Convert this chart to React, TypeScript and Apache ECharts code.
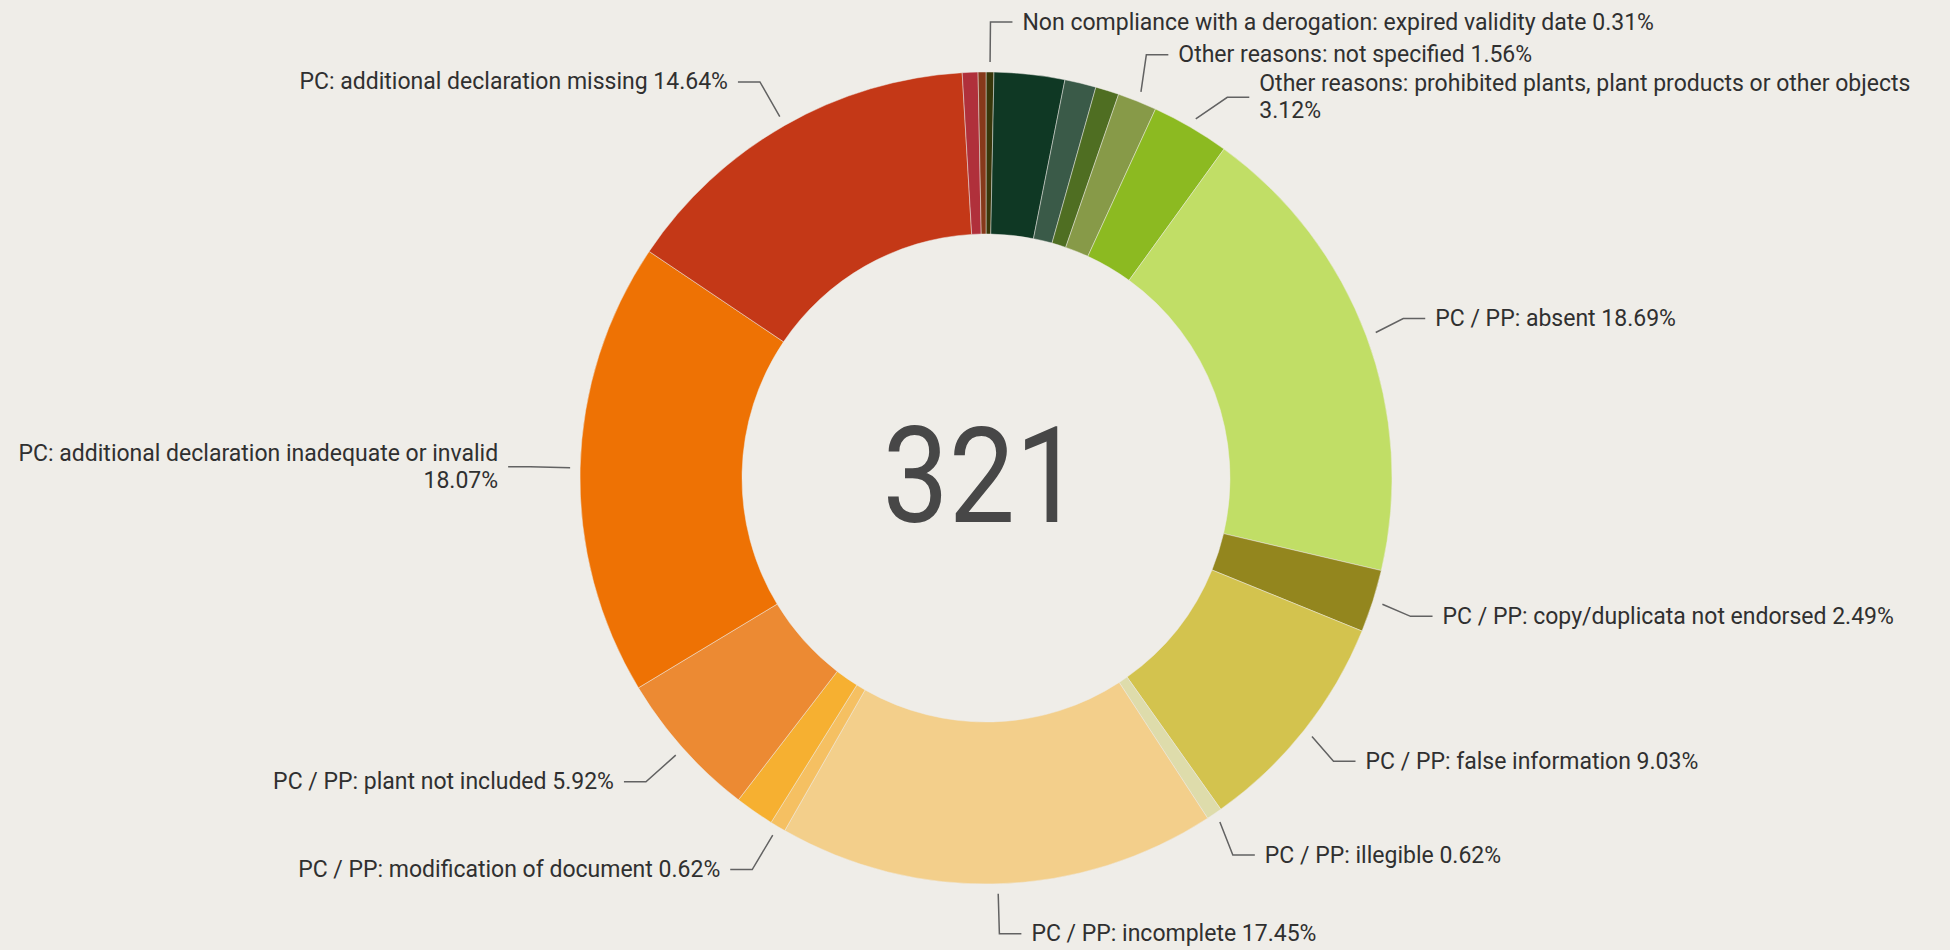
import React, { useEffect, useRef } from "react";
import * as echarts from "echarts";

// Slices, clockwise from 12 o'clock
const names: string[] = [
  "Non compliance with a derogation: expired validity date",
  "",
  "",
  "",
  "Other reasons: not specified",
  "Other reasons: prohibited plants, plant products or other objects",
  "PC / PP: absent",
  "PC / PP: copy/duplicata not endorsed",
  "PC / PP: false information",
  "PC / PP: illegible",
  "PC / PP: incomplete",
  "PC / PP: modification of document",
  "",
  "PC / PP: plant not included",
  "PC: additional declaration inadequate or invalid",
  "PC: additional declaration missing",
  "",
  "",
];
const counts: number[] = [1, 9, 4, 3, 5, 10, 60, 8, 29, 2, 56, 2, 5, 19, 58, 47, 2, 1];
const colors: string[] = [
  "#38370b",
  "#0f3824",
  "#3a5a48",
  "#4f6e22",
  "#879a48",
  "#8cba21",
  "#c1de66",
  "#93861e",
  "#d3c34e",
  "#dedcab",
  "#f3cf8b",
  "#f5c062",
  "#f6b031",
  "#ec8a33",
  "#ee7204",
  "#c43817",
  "#b0303b",
  "#87391a",
];
// labels whose percentage goes on a second line
const wrapped: string[] = [
  "Other reasons: prohibited plants, plant products or other objects",
  "PC: additional declaration inadequate or invalid",
];

const FONT = "Roboto, 'Liberation Sans', sans-serif";
const BG = "#efede8";

export default function App() {
  const ref = useRef<HTMLDivElement>(null);
  useEffect(() => {
    document.body.style.margin = "0";
    document.body.style.background = BG;
    if (!ref.current) return;
    const chart = echarts.init(ref.current, undefined, { renderer: "svg" });
    const total = counts.reduce((a, b) => a + b, 0);
    const cx = 986;
    const cy = 478;

    const ringData = counts.map((v, i) => ({
      value: v,
      name: names[i],
      itemStyle: { color: colors[i] },
    }));

    const labelData = counts.map((v, i) => {
      const hasLabel = names[i] !== "";
      return {
        value: v,
        name: names[i],
        itemStyle: { color: "transparent" },
        label: { show: hasLabel },
        labelLine: { show: hasLabel },
      };
    });

    chart.setOption({
      animation: false,
      backgroundColor: BG,
      series: [
        {
          type: "pie",
          center: [cx, cy],
          radius: [244, 406],
          startAngle: 90,
          clockwise: true,
          silent: true,
          label: { show: false },
          labelLine: { show: false },
          itemStyle: { borderColor: "rgba(239,237,232,0.6)", borderWidth: 0.8 },
          data: ringData,
        },
        {
          type: "pie",
          center: [cx, cy],
          radius: [406, 416],
          startAngle: 90,
          clockwise: true,
          silent: true,
          avoidLabelOverlap: true,
          label: {
            show: true,
            position: "outside",
            color: "#303030",
            fontFamily: FONT,
            fontSize: 23,
            lineHeight: 27,
            overflow: "none",
            bleedMargin: 0,
            distanceToLabelLine: 10,
            formatter: (p: any) => {
              const pct = ((p.value / total) * 100).toFixed(2) + "%";
              const sep = wrapped.indexOf(p.name) >= 0 ? "\n" : " ";
              return p.name + sep + pct;
            },
          },
          labelLine: {
            show: true,
            length: 40,
            length2: 22,
            lineStyle: { color: "#626262", width: 1.5 },
          },
          data: labelData,
        },
      ],
      graphic: [
        {
          type: "text",
          x: cx - 4,
          y: cy - 2,
          scaleX: 0.88,
          silent: true,
          style: {
            text: String(total),
            fill: "#474747",
            fontFamily: FONT,
            fontSize: 134,
            align: "center",
            verticalAlign: "middle",
          },
        },
      ],
    });
    return () => chart.dispose();
  }, []);
  return <div ref={ref} style={{ width: 1950, height: 950, background: BG }} />;
}
